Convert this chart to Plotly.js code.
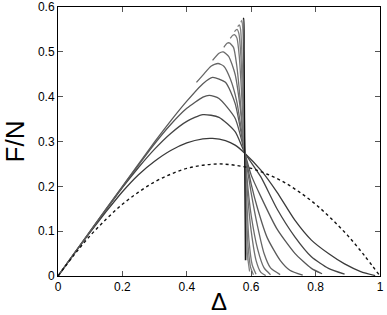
<!DOCTYPE html>
<html>
<head>
<meta charset="utf-8">
<script src="https://cdn.plot.ly/plotly-3.0.1.min.js"></script>
<style>body{margin:0;background:#fff;}#plot{width:387px;height:315px;}</style>
</head>
<body>
<div id="plot"></div>
<script>
// dashed reference curve
var dashX = [0, 0.05, 0.1, 0.15, 0.2, 0.25, 0.3, 0.35, 0.4, 0.45, 0.5, 0.55, 0.6, 0.65, 0.7, 0.75, 0.8, 0.85, 0.9, 0.95, 1];
var dashY = [0, 0.047, 0.09, 0.127, 0.16, 0.187, 0.21, 0.227, 0.24, 0.247, 0.25, 0.247, 0.24, 0.227, 0.21, 0.187, 0.16, 0.127, 0.09, 0.047, 0];

// solid curves, lowest peak first
var c1x = [0, 0.05, 0.1, 0.15, 0.2, 0.25, 0.3, 0.35, 0.4, 0.45, 0.48, 0.52, 0.55, 0.58, 0.63, 0.68, 0.735, 0.787, 0.84, 0.89, 0.94, 0.985];
var c1y = [0, 0.05, 0.098, 0.144, 0.188, 0.226, 0.256, 0.28, 0.297, 0.306, 0.307, 0.302, 0.292, 0.274, 0.236, 0.187, 0.125, 0.08, 0.05, 0.027, 0.01, 0.001];
var c2x = [0, 0.1, 0.2, 0.25, 0.3, 0.35, 0.4, 0.45, 0.5, 0.55, 0.58, 0.63, 0.68, 0.735, 0.787, 0.84, 0.89];
var c2y = [0, 0.099, 0.197, 0.242, 0.283, 0.318, 0.345, 0.36, 0.354, 0.322, 0.275, 0.221, 0.15, 0.088, 0.043, 0.017, 0.004];
var c3x = [0, 0.1, 0.2, 0.3, 0.35, 0.4, 0.45, 0.47, 0.5, 0.55, 0.58, 0.6, 0.63, 0.68, 0.735, 0.787, 0.82];
var c3y = [0, 0.1, 0.199, 0.295, 0.338, 0.374, 0.399, 0.403, 0.396, 0.352, 0.275, 0.225, 0.177, 0.105, 0.051, 0.017, 0.005];
var c4x = [0, 0.1, 0.2, 0.3, 0.35, 0.4, 0.45, 0.48, 0.52, 0.55, 0.58, 0.6, 0.62, 0.65, 0.69, 0.72, 0.76];
var c4y = [0, 0.1, 0.2, 0.299, 0.346, 0.39, 0.429, 0.443, 0.432, 0.385, 0.275, 0.205, 0.15, 0.085, 0.035, 0.013, 0.002];
var c5x = [0.43, 0.45, 0.475, 0.497, 0.515, 0.535, 0.555, 0.58, 0.6, 0.62, 0.64, 0.66, 0.69];
var c5y = [0.432, 0.448, 0.468, 0.474, 0.468, 0.44, 0.39, 0.275, 0.185, 0.11, 0.05, 0.018, 0.003];
var c6x = [0.48, 0.5, 0.513, 0.53, 0.55, 0.565, 0.58, 0.59, 0.6, 0.62, 0.64, 0.66];
var c6y = [0.481, 0.497, 0.5, 0.49, 0.45, 0.38, 0.275, 0.195, 0.135, 0.06, 0.018, 0.003];
var c7x = [0.515, 0.525, 0.532, 0.545, 0.555, 0.565, 0.575, 0.58, 0.59, 0.6, 0.615, 0.63, 0.645];
var c7y = [0.51, 0.519, 0.52, 0.51, 0.47, 0.4, 0.31, 0.275, 0.17, 0.1, 0.035, 0.008, 0.001];
var c8x = [0.535, 0.543, 0.549, 0.556, 0.563, 0.57, 0.577, 0.58, 0.586, 0.593, 0.603, 0.615];
var c8y = [0.53, 0.537, 0.538, 0.53, 0.49, 0.41, 0.31, 0.275, 0.17, 0.08, 0.025, 0.004];
var c9x = [0.548, 0.556, 0.562, 0.568, 0.574, 0.58, 0.585, 0.59, 0.598, 0.607];
var c9y = [0.545, 0.55, 0.54, 0.49, 0.39, 0.275, 0.15, 0.07, 0.02, 0.003];
var c10x = [0.558, 0.563, 0.567, 0.572, 0.577, 0.58, 0.584, 0.588, 0.595];
var c10y = [0.556, 0.56, 0.55, 0.48, 0.36, 0.275, 0.13, 0.05, 0.01];
var c11x = [0.568, 0.571, 0.574, 0.578, 0.58, 0.583, 0.587];
var c11y = [0.566, 0.57, 0.55, 0.4, 0.275, 0.1, 0.035];
var c12x = [0.575, 0.577, 0.578, 0.58, 0.582];
var c12y = [0.572, 0.575, 0.5, 0.275, 0.035];

var curves = [
  [c1x, c1y, '#3a3a3a'], [c2x, c2y, '#444'], [c3x, c3y, '#555'], [c4x, c4y, '#5a5a5a'],
  [c5x, c5y, '#666'], [c6x, c6y, '#6a6a6a'], [c7x, c7y, '#707070'], [c8x, c8y, '#777'],
  [c9x, c9y, '#7a7a7a'], [c10x, c10y, '#808080'], [c11x, c11y, '#888'], [c12x, c12y, '#111']
];

var data = [];
curves.forEach(function(c) {
  data.push({x: c[0], y: c[1], type: 'scatter', mode: 'lines',
    line: {color: c[2], width: 1.3, shape: 'spline', smoothing: 0.6}, hoverinfo: 'none'});
});
data.push({x: dashX, y: dashY, type: 'scatter', mode: 'lines',
  line: {color: '#111', width: 1.4, dash: '3px,3px', shape: 'spline'}, hoverinfo: 'none'});

var ax = {
  showgrid: false, zeroline: false, showline: true, mirror: 'ticks',
  linecolor: '#000', linewidth: 1, ticks: 'inside', ticklen: 5, tickcolor: '#555',
  tickfont: {family: 'Liberation Sans, Arial, sans-serif', size: 12, color: '#000'}
};

var layout = {
  width: 387, height: 315,
  margin: {l: 58, r: 7, t: 7, b: 39},
  showlegend: false,
  paper_bgcolor: '#fff', plot_bgcolor: '#fff',
  xaxis: Object.assign({}, ax, {range: [0, 1], tickvals: [0, 0.2, 0.4, 0.6, 0.8, 1],
    ticktext: ['0', '0.2', '0.4', '0.6', '0.8', '1'],
    title: {text: 'Δ', font: {family: 'Liberation Sans, Arial, sans-serif', size: 24, color: '#000'}, standoff: 4}}),
  yaxis: Object.assign({}, ax, {range: [0, 0.6], tickvals: [0, 0.1, 0.2, 0.3, 0.4, 0.5, 0.6],
    ticktext: ['0', '0.1', '0.2', '0.3', '0.4', '0.5', '0.6'],
    title: {text: 'F/N', font: {family: 'Liberation Sans, Arial, sans-serif', size: 26, color: '#000'}, standoff: 8}})
};

Plotly.newPlot('plot', data, layout, {displayModeBar: false, staticPlot: true});
</script>
</body>
</html>
